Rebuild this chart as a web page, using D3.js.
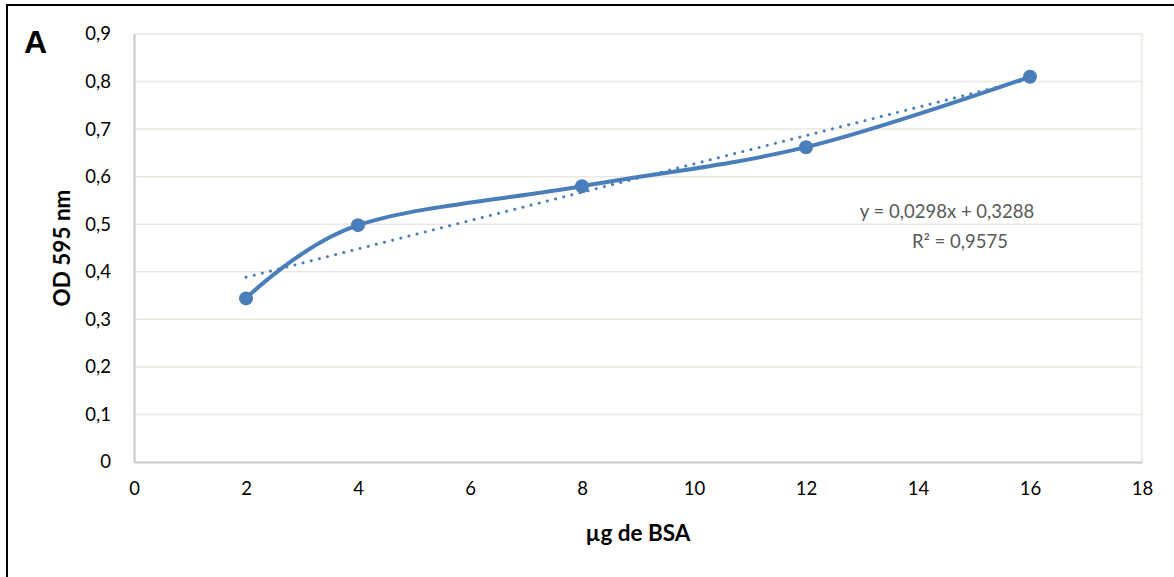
<!DOCTYPE html>
<html>
<head>
<meta charset="utf-8">
<script src="https://cdn.jsdelivr.net/npm/d3@7"></script>
<style>
  body { margin: 0; background: #fff; }
  text { font-family: Lato, "Open Sans", sans-serif; }
</style>
</head>
<body>
<div id="chart"></div>
<script>
// data
var xs = [2, 4, 8, 12, 16];
var od = [0.344, 0.498, 0.580, 0.662, 0.810];
var xTicks = [0, 2, 4, 6, 8, 10, 12, 14, 16, 18];
var yTicks = [0, 0.1, 0.2, 0.3, 0.4, 0.5, 0.6, 0.7, 0.8, 0.9];
var slope = 0.0298, intercept = 0.3288;
var eqLines = ["y = 0,0298x + 0,3288", "R² = 0,9575"];

var W = 1174, H = 577;
var blue = "#4a7ebb";

var svg = d3.select("#chart")
  .append("svg")
    .attr("width", W)
    .attr("height", H);

// outer frame (only left/top visible)
svg.append("rect")
  .attr("x", 7)
  .attr("y", 5)
  .attr("width", W + 20)
  .attr("height", H + 20)
  .attr("fill", "#fff")
  .attr("stroke", "#000")
  .attr("stroke-width", 2);

var x = d3.scaleLinear().domain([0, 18]).range([134, 1142]);
var y = d3.scaleLinear().domain([0, 0.9]).range([462, 34]);

var fmt = function(d) { return d === 0 ? "0" : d3.format(".1f")(d).replace(".", ","); };

// gridlines
svg.append("g")
  .selectAll("line")
  .data(yTicks.filter(function(d) { return d > 0; }))
  .enter().append("line")
    .attr("x1", x(0))
    .attr("x2", x(18))
    .attr("y1", function(d) { return y(d); })
    .attr("y2", function(d) { return y(d); })
    .attr("stroke", "#ece8df")
    .attr("stroke-width", 1.5);

// right plot border
svg.append("line")
  .attr("x1", x(18)).attr("x2", x(18))
  .attr("y1", y(0.9)).attr("y2", y(0))
  .attr("stroke", "#ece8df")
  .attr("stroke-width", 1.5);

// axes
var yAxis = svg.append("g")
  .attr("transform", "translate(" + x(0) + ",0)")
  .call(d3.axisLeft(y).tickValues(yTicks).tickFormat(fmt).tickSize(0).tickPadding(23));
var xAxis = svg.append("g")
  .attr("transform", "translate(0," + y(0) + ")")
  .call(d3.axisBottom(x).tickValues(xTicks).tickFormat(d3.format("d")).tickSize(0).tickPadding(20));

[yAxis, xAxis].forEach(function(g) {
  g.select(".domain").attr("stroke", "#c8c8c8").attr("stroke-width", 2);
  g.selectAll("text")
    .attr("font-size", 18.5)
    .attr("fill", "#000")
    .style("font-family", "Lato, 'Open Sans', sans-serif");
});

// trendline (dotted)
svg.append("line")
  .attr("x1", x(xs[0]))
  .attr("y1", y(slope * xs[0] + intercept))
  .attr("x2", x(xs[xs.length - 1]))
  .attr("y2", y(slope * xs[xs.length - 1] + intercept))
  .attr("stroke", blue)
  .attr("stroke-width", 3)
  .attr("stroke-linecap", "round")
  .attr("stroke-dasharray", "0.1,8.3");

// smoothed series
var pts = xs.map(function(d, i) { return [d, od[i]]; });
var line = d3.line()
  .x(function(d) { return x(d[0]); })
  .y(function(d) { return y(d[1]); })
  .curve(d3.curveCardinal.tension(0));

svg.append("path")
  .datum(pts)
  .attr("d", line)
  .attr("fill", "none")
  .attr("stroke", blue)
  .attr("stroke-width", 4);

svg.selectAll("circle.pt")
  .data(pts)
  .enter().append("circle")
    .attr("class", "pt")
    .attr("cx", function(d) { return x(d[0]); })
    .attr("cy", function(d) { return y(d[1]); })
    .attr("r", 7)
    .attr("fill", blue);

// trendline label
svg.append("text")
  .attr("x", 947)
  .attr("y", 218)
  .attr("text-anchor", "middle")
  .attr("font-size", 18.5)
  .attr("fill", "#595959")
  .text(eqLines[0]);
svg.append("text")
  .attr("x", 960)
  .attr("y", 248)
  .attr("text-anchor", "middle")
  .attr("font-size", 18.5)
  .attr("fill", "#595959")
  .text(eqLines[1]);

// axis titles
svg.append("text")
  .attr("transform", "translate(70,248) rotate(-90)")
  .attr("text-anchor", "middle")
  .attr("font-size", 22.5)
  .attr("font-weight", "bold")
  .text("OD 595 nm");

svg.append("text")
  .attr("x", 638)
  .attr("y", 541)
  .attr("text-anchor", "middle")
  .attr("font-size", 22.5)
  .attr("font-weight", "bold")
  .text("µg de BSA");

// panel letter
svg.append("text")
  .attr("x", 24)
  .attr("y", 53)
  .attr("font-size", 32)
  .attr("font-weight", "bold")
  .style("font-family", "'Liberation Sans', Arial, sans-serif")
  .text("A");
</script>
</body>
</html>
